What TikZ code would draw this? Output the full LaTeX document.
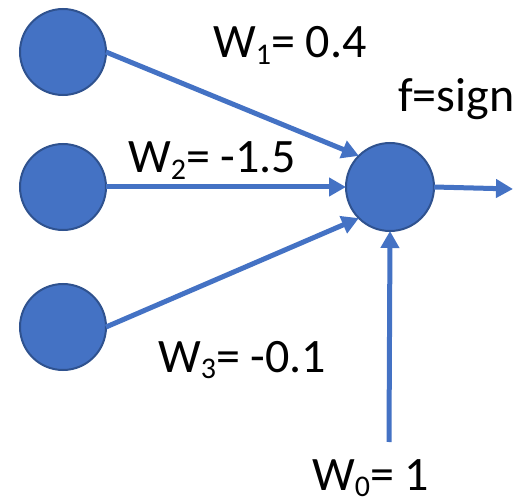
\documentclass[tikz,border=0pt]{standalone}
\usepackage{fontspec}
\setmainfont{Carlito}
\usetikzlibrary{arrows.meta}
\definecolor{nfill}{HTML}{4472C4}
\definecolor{nedge}{HTML}{2F528F}
\newcommand{\wsub}[1]{\raisebox{-6.5pt}{\fontsize{30}{30}\selectfont #1}}
\begin{document}
\begin{tikzpicture}[x=1pt,y=-1pt,
  neuron/.style={circle,fill=nfill,draw=nedge,line width=2pt,inner sep=0pt,outer sep=0pt},
  arr/.style={draw=nfill,line width=5pt,-{Triangle[length=17pt,width=18pt]}},
  lbl/.style={anchor=base west,inner sep=0pt,font=\fontsize{48}{48}\selectfont}]
\useasboundingbox (0,0) rectangle (515,503);
\node[neuron,minimum size=86pt] (i1) at (63,52) {};
\node[neuron,minimum size=86pt] (i2) at (63,187) {};
\node[neuron,minimum size=86pt] (i3) at (63,327) {};
\node[neuron,minimum size=88pt] (o) at (390,187) {};
\coordinate (out) at (513,189);
\coordinate (bias) at (389,442);
\draw[arr] (i1.east) -- (o.135);
\draw[arr] (i2.east) -- (o.west);
\draw[arr] (i3.east) -- (o.225);
\draw[arr] (o.east) -- (out);
\draw[arr] (bias) -- (o.south);
\node[lbl] (l1) at (213,58) {W\wsub{1}= 0.4};
\node[lbl] (l2) at (128,173) {W\wsub{2}= -1.5};
\node[lbl] (l3) at (158,372) {W\wsub{3}= -0.1};
\node[lbl] (l0) at (312,490) {W\wsub{0}= 1};
\node[lbl] (lf) at (398,112) {f=sign};
\end{tikzpicture}
\end{document}
